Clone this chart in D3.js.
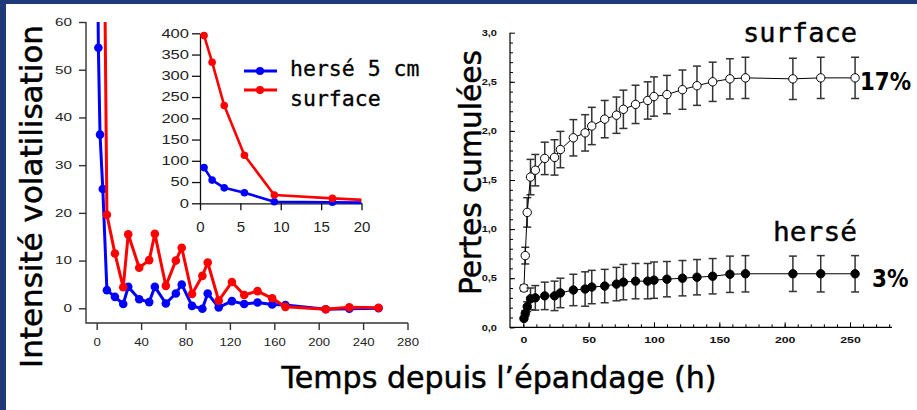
<!DOCTYPE html>
<html>
<head>
<meta charset="utf-8">
<script src="https://cdn.jsdelivr.net/npm/d3@7"></script>
<style>
  body { margin: 0; background: #fff; }
  svg { display: block; }
</style>
</head>
<body>
<script>
// sampling times (h) shared by both panels
const hours = [0.5, 1.5, 3, 5.5, 9.2, 16.4, 23.9, 28.4, 38.3, 47.3, 52.4, 62.3, 71.3,
  76.6, 85.9, 95.2, 100, 109.9, 121.8, 132.9, 144.9, 158.1, 170, 206.3, 227.6, 253.9];

// left panel : volatilisation flux
const fluxSurface = [395, 332, 230, 113, 19.6, 11.5, 4.4, 15.5, 8.5, 10.1, 15.6, 4.7, 10.0,
  12.7, 3.0, 6.8, 9.6, 1.6, 5.5, 2.8, 3.6, 2.1, 0.3, -0.2, 0.2, 0.1];
const fluxHerse = [84, 54.6, 36.4, 25, 3.8, 2.4, 0.9, 4.5, 1.9, 1.3, 4.5, 1.0, 3.1,
  5.0, 0.5, -0.1, 3.1, 0.2, 1.5, 0.9, 1.2, 0.8, 0.7, -0.2, -0.1, 0.0];

// right panel : cumulated losses with error bars
const cumSurface = [0.40, 0.73, 1.17, 1.53, 1.60, 1.72, 1.73, 1.81, 1.93, 1.98, 2.05, 2.12, 2.16,
  2.22, 2.27, 2.31, 2.35, 2.37, 2.42, 2.46, 2.50, 2.53, 2.54, 2.53, 2.54, 2.54];
const errSurface = [0.03, 0.085, 0.15, 0.18, 0.16, 0.165, 0.18, 0.185, 0.185, 0.185, 0.19, 0.19, 0.185,
  0.195, 0.195, 0.19, 0.2, 0.195, 0.2, 0.2, 0.2, 0.205, 0.21, 0.21, 0.21, 0.21];
const cumHerse = [0.09, 0.14, 0.21, 0.29, 0.30, 0.32, 0.32, 0.35, 0.38, 0.39, 0.41, 0.42, 0.44,
  0.46, 0.47, 0.47, 0.48, 0.49, 0.50, 0.51, 0.52, 0.54, 0.545, 0.545, 0.545, 0.545];
const errHerse = [0.02, 0.03, 0.05, 0.11, 0.125, 0.14, 0.15, 0.15, 0.16, 0.175, 0.17, 0.17, 0.17,
  0.18, 0.18, 0.18, 0.185, 0.18, 0.18, 0.18, 0.18, 0.185, 0.185, 0.18, 0.185, 0.185];

// tick labels
const mainYTicks = [0, 10, 20, 30, 40, 50, 60];
const mainXTicks = [0, 40, 80, 120, 160, 200, 240, 280];
const insetYTicks = [0, 50, 100, 150, 200, 250, 300, 350, 400];
const insetXTicks = [0, 5, 10, 15, 20];
const cumYTicks = [0, 0.5, 1, 1.5, 2, 2.5, 3];
const cumXTicks = [0, 50, 100, 150, 200, 250];

const svg = d3.select('body').append('svg').attr('width', 917).attr('height', 410);

// navy slide frame
svg.append('rect').attr('x', 0).attr('y', 0).attr('width', 917).attr('height', 4).attr('fill', '#1e3a78');
svg.append('rect').attr('x', 0).attr('y', 0).attr('width', 6).attr('height', 410).attr('fill', '#1e3a78');

// the source picture is stretched sideways, so are its tick labels
const stretchX = (sel, sx) => sel.each(function () {
  const t = d3.select(this);
  const x = +t.attr('x') || 0;
  t.attr('x', x / sx).attr('transform', `scale(${sx},1)`);
});

const defs = svg.append('defs');
defs.append('clipPath').attr('id', 'clipMain')
  .append('rect').attr('x', 86).attr('y', 22).attr('width', 330).attr('height', 310);
defs.append('clipPath').attr('id', 'clipInset')
  .append('rect').attr('x', 190).attr('y', 20).attr('width', 171.5).attr('height', 200);
defs.append('clipPath').attr('id', 'clipCumY')
  .append('rect').attr('x', 482).attr('y', 0).attr('width', 60).attr('height', 410);

const fluxRows = hours.map((h, i) => ({ h, s: fluxSurface[i], b: fluxHerse[i] }));

// ---------- left panel ----------
const xMain = d3.scaleLinear().domain([0, 280]).range([96.7, 407.5]);
const yMain = d3.scaleLinear().domain([0, 60]).range([308.3, 22]);

const mainAxisY = svg.append('g').attr('transform', 'translate(86,0)')
  .call(d3.axisLeft(yMain).tickValues(mainYTicks).tickSize(7).tickPadding(7));
const mainAxisX = svg.append('g').attr('transform', 'translate(0,323)')
  .call(d3.axisBottom(xMain).tickValues(mainXTicks).tickSize(7).tickPadding(9));
[mainAxisY, mainAxisX].forEach(g => {
  g.select('.domain').remove();
  g.selectAll('line').attr('stroke', '#333').attr('stroke-width', 1.4);
  g.selectAll('text').attr('font-family', 'Liberation Sans, Arial, sans-serif')
    .attr('font-size', 10.5).attr('fill', '#222');
});
stretchX(mainAxisY.selectAll('text'), 1.45);
stretchX(mainAxisX.selectAll('text'), 1.25);
svg.append('path').attr('d', 'M86,22V323H408').attr('fill', 'none')
  .attr('stroke', '#333').attr('stroke-width', 1.4);

const mainPlot = svg.append('g').attr('clip-path', 'url(#clipMain)');
const series = [
  { key: 'b', color: '#0000ff' },
  { key: 's', color: '#ff0000' }
];
series.forEach(sr => {
  mainPlot.append('path').datum(fluxRows)
    .attr('fill', 'none').attr('stroke', sr.color).attr('stroke-width', 3)
    .attr('stroke-linejoin', 'round')
    .attr('d', d3.line().x(d => xMain(d.h)).y(d => yMain(d[sr.key])));
  mainPlot.selectAll(null).data(fluxRows).enter().append('circle')
    .attr('cx', d => xMain(d.h)).attr('cy', d => yMain(d[sr.key]))
    .attr('r', 4.3).attr('fill', sr.color);
});

// ---------- inset ----------
const xIn = d3.scaleLinear().domain([0, 20]).range([200, 361.5]);
const yIn = d3.scaleLinear().domain([0, 400]).range([203.3, 33.3]);

const inAxisY = svg.append('g').attr('transform', 'translate(200,0)')
  .call(d3.axisLeft(yIn).tickValues(insetYTicks).tickSize(8).tickPadding(3).tickSizeOuter(0));
const inAxisX = svg.append('g').attr('transform', 'translate(0,203.3)')
  .call(d3.axisBottom(xIn).tickValues(insetXTicks).tickSize(7).tickPadding(11).tickSizeOuter(0));
[inAxisY, inAxisX].forEach(g => {
  g.select('.domain').attr('stroke', '#111').attr('stroke-width', 1.3);
  g.selectAll('line').attr('stroke', '#111').attr('stroke-width', 1.3);
  g.selectAll('text').attr('font-family', 'Liberation Sans, Arial, sans-serif').attr('fill', '#222');
});
inAxisY.selectAll('text').attr('font-size', 12);
inAxisX.selectAll('text').attr('font-size', 15);
stretchX(inAxisY.selectAll('text'), 1.38);

const inPlot = svg.append('g').attr('clip-path', 'url(#clipInset)');
series.forEach(sr => {
  inPlot.append('path').datum(fluxRows)
    .attr('fill', 'none').attr('stroke', sr.color).attr('stroke-width', 2.6)
    .attr('stroke-linejoin', 'round')
    .attr('d', d3.line().x(d => xIn(d.h)).y(d => yIn(d[sr.key])));
  inPlot.selectAll(null).data(fluxRows.filter(d => d.h <= 20)).enter().append('circle')
    .attr('cx', d => xIn(d.h)).attr('cy', d => yIn(d[sr.key]))
    .attr('r', 3.8).attr('fill', sr.color);
});

// legend
const legend = [
  { label: 'hersé 5 cm', color: '#0000ff', ly: 71, ty: 76 },
  { label: 'surface', color: '#ff0000', ly: 90, ty: 106 }
];
legend.forEach(l => {
  svg.append('line').attr('x1', 244).attr('x2', 277).attr('y1', l.ly).attr('y2', l.ly)
    .attr('stroke', l.color).attr('stroke-width', 3);
  svg.append('circle').attr('cx', 260).attr('cy', l.ly).attr('r', 4).attr('fill', l.color);
  svg.append('text').attr('x', 290).attr('y', l.ty)
    .attr('font-family', 'DejaVu Sans Mono, monospace').attr('font-size', 21.5)
    .attr('stroke', '#000').attr('stroke-width', 0.3)
    .attr('fill', '#000').text(l.label);
});

svg.append('text')
  .attr('transform', 'translate(42,196.5) rotate(-90)')
  .attr('text-anchor', 'middle')
  .attr('font-family', 'DejaVu Sans, sans-serif').attr('font-size', 30)
  .attr('stroke', '#000').attr('stroke-width', 0.5)
  .attr('textLength', 343).attr('lengthAdjust', 'spacingAndGlyphs')
  .text('Intensité volatilisation');

// ---------- right panel ----------
const xCum = d3.scaleLinear().domain([0, 250]).range([523.3, 850]);
const yCum = d3.scaleLinear().domain([0, 3]).range([327.3, 32.7]);

const cumYGroup = svg.append('g').attr('clip-path', 'url(#clipCumY)');
const cumAxisY = cumYGroup.append('g').attr('transform', 'translate(510,0)')
  .call(d3.axisLeft(yCum).tickValues(cumYTicks).tickSize(-5).tickPadding(13)
    .tickFormat(d => d3.format('.1f')(d).replace('.', ',')).tickSizeOuter(0));
const cumAxisYMinor = svg.append('g').attr('transform', 'translate(510,0)')
  .call(d3.axisLeft(yCum).tickValues(d3.range(0, 30).map(d => d / 10)).tickSize(-3)
    .tickFormat('').tickSizeOuter(0));
const cumAxisX = svg.append('g').attr('transform', 'translate(0,327.3)')
  .call(d3.axisBottom(xCum).tickValues(cumXTicks).tickSize(-5).tickPadding(9.5).tickSizeOuter(0));
const cumAxisXMinor = svg.append('g').attr('transform', 'translate(0,327.3)')
  .call(d3.axisBottom(xCum).tickValues(d3.range(0, 290, 10)).tickSize(-3)
    .tickFormat('').tickSizeOuter(0));
[cumAxisY, cumAxisYMinor, cumAxisX, cumAxisXMinor].forEach(g => {
  g.select('.domain').remove();
  g.selectAll('line').attr('stroke', '#000').attr('stroke-width', 1);
  g.selectAll('text').attr('font-family', 'Liberation Sans, Arial, sans-serif')
    .attr('font-size', 8.5).attr('font-weight', 'bold').attr('fill', '#111');
});
stretchX(cumAxisY.selectAll('text'), 1.3);
stretchX(cumAxisX.selectAll('text'), 1.45);
svg.append('path').attr('d', 'M510,32.7V327.3H892').attr('fill', 'none')
  .attr('stroke', '#000').attr('stroke-width', 1.2);

const cumSets = [
  { vals: cumSurface, errs: errSurface, fill: '#fff' },
  { vals: cumHerse, errs: errHerse, fill: '#000' }
];
cumSets.forEach(cs => {
  const rows = hours.map((h, i) => ({ h, v: cs.vals[i], e: cs.errs[i] }));
  const bars = svg.append('g').selectAll('g').data(rows).enter().append('g')
    .attr('stroke', '#333').attr('stroke-width', 1.5);
  bars.append('line')
    .attr('x1', d => xCum(d.h)).attr('x2', d => xCum(d.h))
    .attr('y1', d => yCum(d.v - d.e)).attr('y2', d => yCum(d.v + d.e));
  bars.append('line')
    .attr('x1', d => xCum(d.h) - 4).attr('x2', d => xCum(d.h) + 4)
    .attr('y1', d => yCum(d.v + d.e)).attr('y2', d => yCum(d.v + d.e));
  bars.append('line')
    .attr('x1', d => xCum(d.h) - 4).attr('x2', d => xCum(d.h) + 4)
    .attr('y1', d => yCum(d.v - d.e)).attr('y2', d => yCum(d.v - d.e));
  svg.append('path').datum(rows)
    .attr('fill', 'none').attr('stroke', '#000').attr('stroke-width', 1)
    .attr('d', d3.line().x(d => xCum(d.h)).y(d => yCum(d.v)));
  svg.append('g').selectAll('circle').data(rows).enter().append('circle')
    .attr('cx', d => xCum(d.h)).attr('cy', d => yCum(d.v)).attr('r', 4.2)
    .attr('fill', cs.fill).attr('stroke', '#000').attr('stroke-width', 1);
});

svg.append('text')
  .attr('transform', 'translate(481,172.5) rotate(-90)')
  .attr('text-anchor', 'middle')
  .attr('font-family', 'DejaVu Sans, sans-serif').attr('font-size', 31)
  .attr('stroke', '#000').attr('stroke-width', 0.5)
  .attr('textLength', 245).attr('lengthAdjust', 'spacingAndGlyphs')
  .text('Pertes cumulées');

const annotations = [
  { text: 'surface', x: 743, y: 41.7, size: 27, mono: true, len: 114 },
  { text: 'hersé', x: 773, y: 240.7, size: 27, mono: true, len: 84 },
  { text: '17%', x: 860, y: 90, size: 25, mono: false, len: 51 },
  { text: '3%', x: 872, y: 286.7, size: 25, mono: false, len: 36.5 }
];
annotations.forEach(a => {
  svg.append('text').attr('x', a.x).attr('y', a.y)
    .attr('font-family', a.mono ? 'DejaVu Sans Mono, monospace' : 'DejaVu Sans, sans-serif')
    .attr('font-weight', a.mono ? 'normal' : 'bold')
    .attr('font-size', a.size)
    .attr('stroke', '#000').attr('stroke-width', a.mono ? 0.4 : 0)
    .attr('textLength', a.len).attr('lengthAdjust', 'spacingAndGlyphs')
    .attr('fill', '#000').text(a.text);
});

// shared x title
svg.append('text')
  .attr('x', 499).attr('y', 388)
  .attr('text-anchor', 'middle')
  .attr('font-family', 'DejaVu Sans, sans-serif').attr('font-size', 31)
  .attr('stroke', '#000').attr('stroke-width', 0.5)
  .attr('textLength', 435).attr('lengthAdjust', 'spacingAndGlyphs')
  .text('Temps depuis l’épandage (h)');
</script>
</body>
</html>
